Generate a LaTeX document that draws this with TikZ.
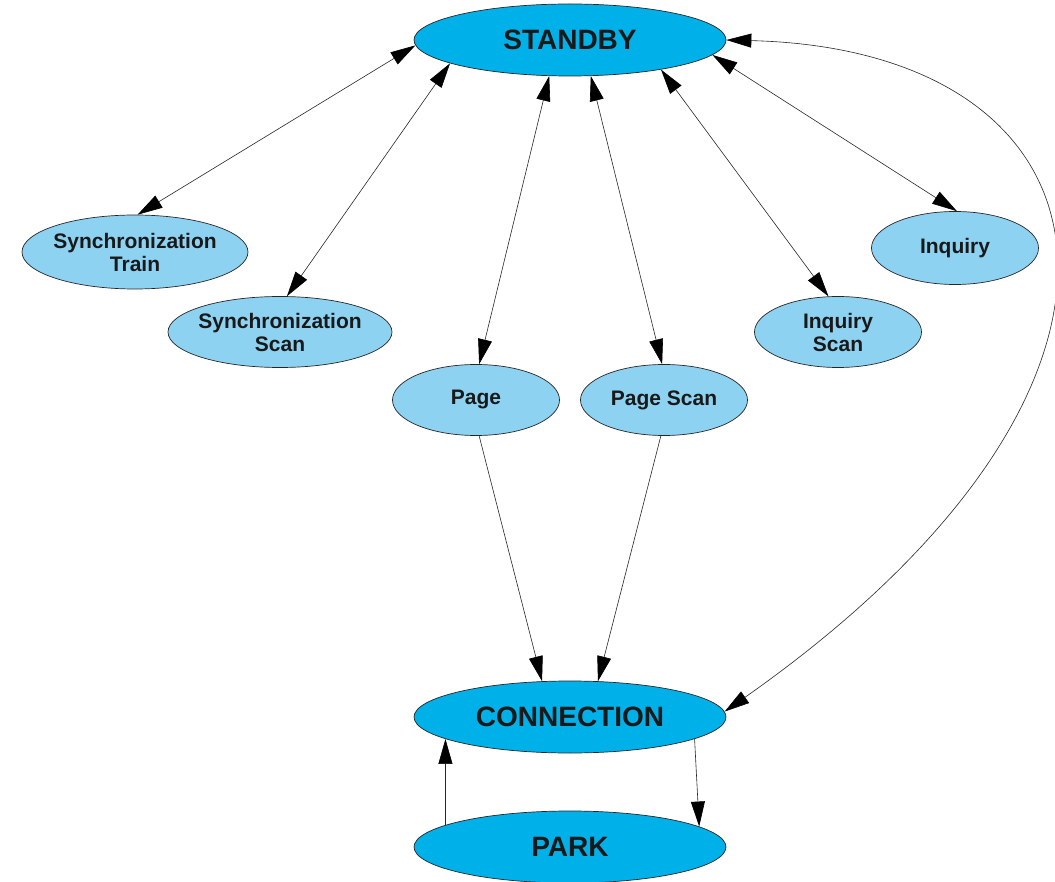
\documentclass[tikz,border=0pt]{standalone}
\usepackage{fontspec}
\setmainfont{Liberation Sans}
\usetikzlibrary{shapes.geometric,arrows.meta}
\definecolor{statedark}{RGB}{0,176,232}
\definecolor{statelight}{RGB}{142,210,242}
\begin{document}
\begin{tikzpicture}[x=1pt,y=-1pt,
  state/.style={ellipse, draw=black!85, line width=0.7pt, inner sep=0pt, text=black!90},
  mainstate/.style={state, fill=statedark, minimum width=312pt, minimum height=72pt,
    font=\fontsize{28}{30}\selectfont\bfseries},
  substate/.style={state, fill=statelight, minimum width=167pt, minimum height=71pt,
    font=\fontsize{21}{23}\selectfont\bfseries, align=center},
  link/.style={line width=0.6pt, draw=black!85,
    -{Triangle[length=25pt,width=14pt,color=black]}},
  dlink/.style={link,
    {Triangle[length=25pt,width=14pt,color=black]}-{Triangle[length=25pt,width=14pt,color=black]}},
]
\useasboundingbox (0,0) rectangle (1055,882);

% main states
\node[mainstate] (standby) at (570,40) {STANDBY};
\node[mainstate] (connection) at (570,717) {CONNECTION};
\node[mainstate] (park) at (570,847) {PARK};

% sub states
\node[substate, minimum width=226pt, minimum height=74pt, inner xsep=-6pt] (synctrain) at (135,252) {Synchronization\\Train};
\node[substate, minimum width=224pt, inner xsep=-6pt] (syncscan) at (280,332) {Synchronization\\Scan};
\node[substate] (page) at (476,400) {Page};
\node[substate] (pagescan) at (664,400) {Page Scan};
\node[substate] (inqscan) at (838,332) {Inquiry\\Scan};
\node[substate, minimum height=73pt] (inquiry) at (955,248) {Inquiry};

% standby transitions
\draw[dlink] (standby.182) -- (synctrain.86);
\draw[dlink] (standby.191) -- (syncscan.79);
\draw[dlink] (standby.240) -- (page.85);
\draw[dlink] (standby.300) -- (pagescan.93);
\draw[dlink] (standby.342) -- (inqscan.105);
\draw[dlink] (standby.354) -- (inquiry.87);
\draw[dlink] (standby.east) .. controls +(400,10) and +(470,-330) .. (connection.2);

% connection set-up
\draw[link] (page.275) -- (connection.128);
\draw[link] (pagescan.265) -- (connection.52);

% park mode
\draw[link] (park.170) -- (connection.190);
\draw[link] (connection.350.5) -- (park.9.5);
\end{tikzpicture}
\end{document}
